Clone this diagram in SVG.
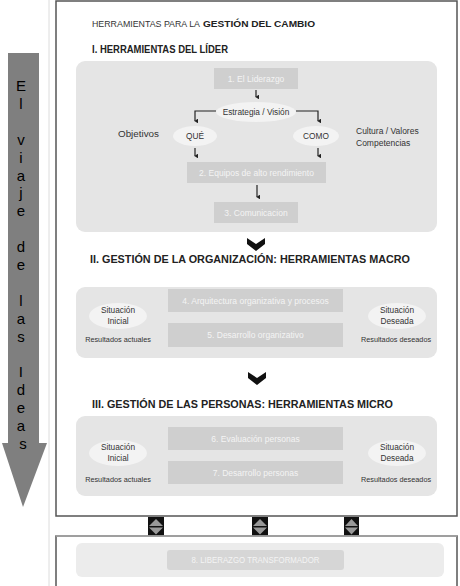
<svg xmlns="http://www.w3.org/2000/svg" width="460" height="586" viewBox="0 0 460 586">
<defs>
<marker id="ah" viewBox="0 0 6 6" refX="3" refY="5" markerWidth="4.5" markerHeight="4.5" orient="auto-start-reverse" markerUnits="userSpaceOnUse">
<path d="M0,1 L3,6 L6,1 Z" fill="#222"/>
</marker>
<style>
.panel{fill:#e5e5e5}
.box{fill:#cfcfcf}
.boxt{font-family:"Liberation Sans",Arial,sans-serif;font-size:8.5px;fill:#f4f4f4;text-anchor:middle}
.ell{fill:#f3f3f3}
.t{font-family:"Liberation Sans",Arial,sans-serif;font-size:8.3px;fill:#333;text-anchor:middle}
.tl{font-family:"Liberation Sans",Arial,sans-serif;font-size:8.5px;fill:#333}
.sm{font-family:"Liberation Sans",Arial,sans-serif;font-size:7.3px;fill:#333;text-anchor:middle}
.h{font-family:"Liberation Sans",Arial,sans-serif;font-size:10px;font-weight:bold;fill:#222}
.conn{stroke:#222;stroke-width:1.2;fill:none;marker-end:url(#ah)}
.tri{fill:#a8a8a8}
.chev{fill:#111}
.arrowtxt{font-family:"Liberation Sans",Arial,sans-serif;font-size:15px;fill:#000;text-anchor:middle}
</style>
</defs>
<rect width="460" height="586" fill="#fff"/>
<line x1="49" y1="0" x2="49" y2="586" stroke="#dcdcdc" stroke-width="1"/>

<g id="viaje">
<polygon points="8,53 39,53 39,443 47,443 23,507 2,443 8,443" fill="#7f7f7f"/>
<text class="arrowtxt">
<tspan x="23" y="91">E</tspan>
<tspan x="23" y="108.9">l</tspan>
<tspan x="23" y="144.7">v</tspan>
<tspan x="23" y="162.6">i</tspan>
<tspan x="23" y="180.5">a</tspan>
<tspan x="23" y="198.4">j</tspan>
<tspan x="23" y="216.3">e</tspan>
<tspan x="23" y="252.1">d</tspan>
<tspan x="23" y="270">e</tspan>
<tspan x="23" y="305.8">l</tspan>
<tspan x="23" y="323.7">a</tspan>
<tspan x="23" y="341.6">s</tspan>
<tspan x="23" y="377.4">I</tspan>
<tspan x="23" y="395.3">d</tspan>
<tspan x="23" y="413.2">e</tspan>
<tspan x="23" y="431.1">a</tspan>
<tspan x="23" y="449">s</tspan>
</text>
</g>

<g id="mainbox">
<rect x="56" y="1" width="401" height="515" fill="#fff" stroke="#555" stroke-width="1.5"/>
<text x="92" y="27" font-family="'Liberation Sans',Arial,sans-serif" font-size="9.3" fill="#333" textLength="108" lengthAdjust="spacingAndGlyphs">HERRAMIENTAS PARA LA</text>
<text x="203" y="27" font-family="'Liberation Sans',Arial,sans-serif" font-size="9.3" font-weight="bold" fill="#222" textLength="112" lengthAdjust="spacingAndGlyphs">GESTIÓN DEL CAMBIO</text>
</g>

<g id="seccion1">
<text class="h" x="92" y="53" textLength="136" lengthAdjust="spacingAndGlyphs">I. HERRAMIENTAS DEL LÍDER</text>
<rect class="panel" x="76" y="61" width="361" height="171" rx="9"/>
</g>
<g id="n1"><rect class="box" x="214" y="68" width="84" height="21"/><text class="boxt" x="256" y="81.8">1. El Liderazgo</text></g>
<g id="estrategia"><ellipse class="ell" cx="256" cy="112" rx="40" ry="10"/><text class="t" x="256" y="115">Estrategia / Visión</text></g>
<g id="que"><ellipse class="ell" cx="195" cy="136" rx="22" ry="10"/><text class="t" x="195" y="139" font-size="8.5">QUÉ</text></g>
<g id="como"><ellipse class="ell" cx="316" cy="136" rx="23" ry="10"/><text class="t" x="316" y="139" font-size="8.5">COMO</text></g>
<g id="objetivos"><text class="tl" x="118" y="137" textLength="41" lengthAdjust="spacingAndGlyphs">Objetivos</text></g>
<g id="cultura"><text class="tl" x="356" y="134">Cultura / Valores</text><text class="tl" x="356" y="146">Competencias</text></g>
<g id="n2"><rect class="box" x="187" y="162" width="139" height="21"/><text class="boxt" x="256.5" y="175.8">2. Equipos de alto rendimiento</text></g>
<g id="n3"><rect class="box" x="214" y="202" width="84" height="21"/><text class="boxt" x="256" y="215.8">3. Comunicacion</text></g>

<g id="connectors">
<path class="conn" d="M256,90 V97"/>
<path class="conn" d="M216,111 H195 V121"/>
<path class="conn" d="M296,111 H318 V121"/>
<path class="conn" d="M195,148 V156"/>
<path class="conn" d="M318,148 V156"/>
<path class="conn" d="M257,185 V197"/>
<polygon class="chev" points="247,238 256,244 265,238 265,244 256,251 247,244"/>
<polygon class="chev" points="248,372 257,378 266,372 266,378 257,385 248,378"/>
<polygon class="tri" points="157,308 165,315.5 157,323"/>
<polygon class="tri" points="350,308 358,315.5 350,323"/>
<polygon class="tri" points="157,449 165,456.5 157,464"/>
<polygon class="tri" points="350,449 358,456.5 350,464"/>
</g>

<g id="seccion2">
<text class="h" x="90" y="263" textLength="320" lengthAdjust="spacingAndGlyphs">II. GESTIÓN DE LA ORGANIZACIÓN: HERRAMIENTAS MACRO</text>
<rect class="panel" x="76" y="287" width="361" height="71" rx="9"/>
</g>
<g id="si2"><ellipse class="ell" cx="118" cy="316" rx="29" ry="13"/><text class="t" x="118" y="313">Situación</text><text class="t" x="118" y="323.5">Inicial</text><text class="sm" x="118" y="342">Resultados actuales</text></g>
<g id="n4"><rect class="box" x="168" y="289" width="175" height="23"/><text class="boxt" x="255.5" y="303.5">4. Arquitectura organizativa y procesos</text></g>
<g id="n5"><rect class="box" x="168" y="323" width="175" height="24"/><text class="boxt" x="255.5" y="338">5. Desarrollo organizativo</text></g>
<g id="sd2"><ellipse class="ell" cx="397" cy="316" rx="29" ry="13"/><text class="t" x="397" y="313">Situación</text><text class="t" x="397" y="323.5">Deseada</text><text class="sm" x="396" y="342">Resultados deseados</text></g>

<g id="seccion3">
<text class="h" x="92" y="408" textLength="301" lengthAdjust="spacingAndGlyphs">III. GESTIÓN DE LAS PERSONAS: HERRAMIENTAS MICRO</text>
<rect class="panel" x="76" y="416" width="361" height="80" rx="9"/>
</g>
<g id="si3"><ellipse class="ell" cx="118" cy="453" rx="29" ry="13"/><text class="t" x="118" y="450">Situación</text><text class="t" x="118" y="460.5">Inicial</text><text class="sm" x="118" y="482">Resultados actuales</text></g>
<g id="n6"><rect class="box" x="168" y="427" width="175" height="23"/><text class="boxt" x="255.5" y="441.5">6. Evaluación personas</text></g>
<g id="n7"><rect class="box" x="168" y="461" width="175" height="23"/><text class="boxt" x="255.5" y="475.5">7. Desarrollo personas</text></g>
<g id="sd3"><ellipse class="ell" cx="397" cy="453" rx="29" ry="13"/><text class="t" x="397" y="450">Situación</text><text class="t" x="397" y="460.5">Deseada</text><text class="sm" x="396" y="482">Resultados deseados</text></g>

<g id="updown">
<rect x="148" y="517" width="16" height="19" fill="#111"/>
<polygon points="149,526 156,519 163,526" fill="#999"/><polygon points="149,527.5 156,534.5 163,527.5" fill="#999"/>
<rect x="252" y="517" width="16" height="19" fill="#111"/>
<polygon points="253,526 260,519 267,526" fill="#999"/><polygon points="253,527.5 260,534.5 267,527.5" fill="#999"/>
<rect x="344" y="517" width="15" height="19" fill="#111"/>
<polygon points="345,526 351.5,519 358,526" fill="#999"/><polygon points="345,527.5 351.5,534.5 358,527.5" fill="#999"/>
</g>

<g id="n8">
<rect x="56" y="536" width="401" height="60" fill="#fff" stroke="#555" stroke-width="1.5"/>
<line x1="56" y1="536" x2="457" y2="536" stroke="#aaa" stroke-width="1.5"/>
<rect x="76" y="543" width="368" height="34" rx="6" fill="#ececec"/>
<rect x="167" y="550" width="177" height="20" rx="3" fill="#d6d6d6"/>
<text class="boxt" x="255.5" y="563" fill="#eee" textLength="128" lengthAdjust="spacingAndGlyphs">8. LIBERAZGO  TRANSFORMADOR</text>
</g>
</svg>
